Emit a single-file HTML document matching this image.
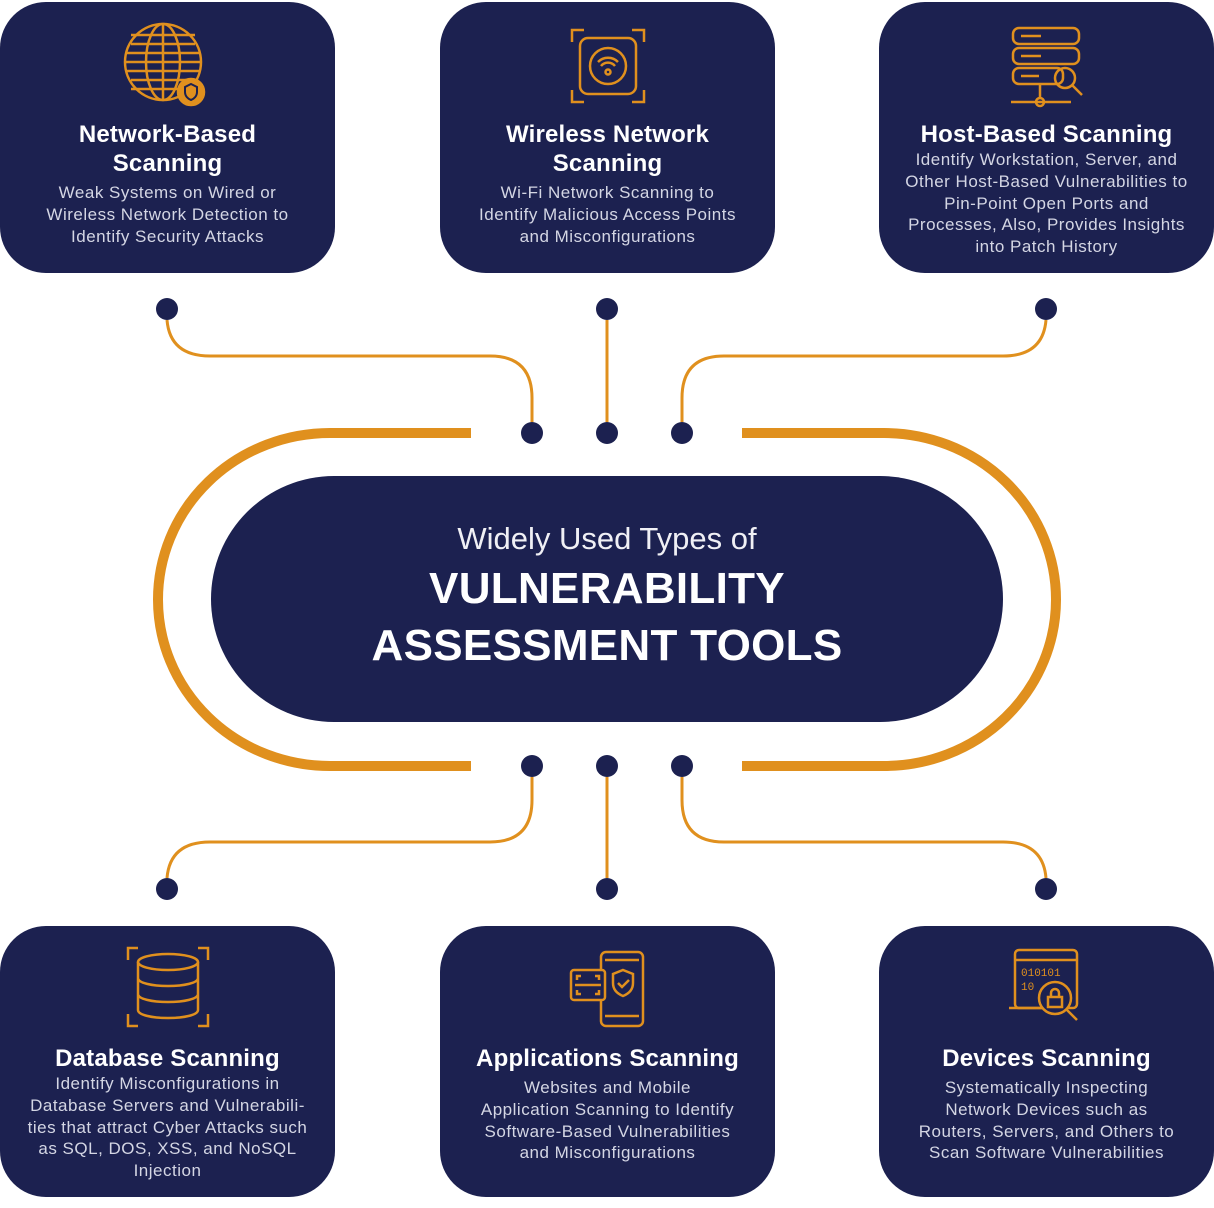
<!DOCTYPE html>
<html><head><meta charset="utf-8"><style>
body{margin:0;width:1214px;height:1208px;background:#fff;position:relative;overflow:hidden;font-family:"Liberation Sans",sans-serif}
.box{position:absolute;width:335px;height:271px;background:#1c2150;border-radius:46px;color:#fff;text-align:center}
.box h3{margin:0;font-size:24px;font-weight:bold;line-height:29px;letter-spacing:0.2px}
.box p{margin:4px 0 0;font-size:17px;line-height:21.8px;color:#d4d6e4;letter-spacing:0.5px}
.ic{position:absolute;left:50%;transform:translateX(-50%)}
</style></head><body>
<svg width="1214" height="1208" style="position:absolute;left:0;top:0">
<g fill="none" stroke="#e0901e" stroke-width="3">
<path d="M167 320 Q170 356 210 356 L490 356 Q532 356 532 398 L532 422"/>
<path d="M607 320 L607 422"/>
<path d="M1046 320 Q1043 356 1003 356 L724 356 Q682 356 682 398 L682 422"/>
<path d="M532 777 L532 800 Q532 842 490 842 L210 842 Q170 842 167 878"/>
<path d="M607 777 L607 878"/>
<path d="M682 777 L682 800 Q682 842 724 842 L1003 842 Q1043 842 1046 878"/>
</g>
<path d="M471 433 L330 433 A172 166.5 0 0 0 330 766 L471 766 M742 433 L884 433 A172 166.5 0 0 1 884 766 L742 766" fill="none" stroke="#e0901e" stroke-width="10"/>
<g fill="#1c2150">
<circle cx="167" cy="309" r="11"/><circle cx="607" cy="309" r="11"/><circle cx="1046" cy="309" r="11"/>
<circle cx="532" cy="433" r="11"/><circle cx="607" cy="433" r="11"/><circle cx="682" cy="433" r="11"/>
<circle cx="532" cy="766" r="11"/><circle cx="607" cy="766" r="11"/><circle cx="682" cy="766" r="11"/>
<circle cx="167" cy="889" r="11"/><circle cx="607" cy="889" r="11"/><circle cx="1046" cy="889" r="11"/>
<rect x="211" y="476" width="792" height="246" rx="123"/>
</g>
</svg>
<div style="position:absolute;left:211px;top:518px;width:792px;text-align:center;color:#fff">
<div style="font-size:31px;line-height:42px;font-weight:normal;color:#f0f0f5">Widely Used Types of</div>
<div style="font-size:44px;line-height:57px;font-weight:bold;letter-spacing:0.3px">VULNERABILITY<br>ASSESSMENT TOOLS</div>
</div>

<div class="box" style="left:0;top:2px">
<svg class="ic" style="top:20px" width="90" height="90" viewBox="0 0 90 90" fill="none" stroke="#e0901e" stroke-width="2.5"><circle cx="40" cy="40" r="38"/><ellipse cx="40" cy="40" rx="17" ry="38"/><path d="M40 2v76M2 40h76M8 22h64M8 58h64M4 31h72M4 49h72M8 67h64M8 13h64"/><circle cx="68" cy="70" r="13" fill="#e0901e"/><path d="M68 62l6 3v5c0 4-3 7-6 8-3-1-6-4-6-8v-5z" stroke="#1c2150" stroke-width="2"/></svg>
<div style="position:absolute;top:118px;width:100%"><h3>Network-Based<br>Scanning</h3><p>Weak Systems on Wired or<br>Wireless Network Detection to<br>Identify Security Attacks</p></div></div>

<div class="box" style="left:440px;top:2px">
<svg class="ic" style="top:26px" width="76" height="76" viewBox="0 0 76 76" fill="none" stroke="#e0901e" stroke-width="2.5"><path d="M2 14V2h12M62 2h12v12M74 62v12H62M14 74H2V62"/><rect x="10" y="10" width="56" height="56" rx="8"/><circle cx="38" cy="38" r="18"/><path d="M28 34a14 14 0 0 1 20 0M31 38a9 9 0 0 1 14 0"/><circle cx="38" cy="44" r="2.5"/></svg>
<div style="position:absolute;top:118px;width:100%"><h3>Wireless Network<br>Scanning</h3><p>Wi-Fi Network Scanning to<br>Identify Malicious Access Points<br>and Misconfigurations</p></div></div>

<div class="box" style="left:879px;top:2px">
<svg class="ic" style="top:24px" width="80" height="82" viewBox="0 0 80 82" fill="none" stroke="#e0901e" stroke-width="2.5"><rect x="6" y="2" width="66" height="16" rx="6"/><rect x="6" y="22" width="66" height="16" rx="6"/><rect x="6" y="42" width="50" height="16" rx="6"/><path d="M14 10h20M14 30h20M14 50h18M33 58v14M4 76h60"/><circle cx="33" cy="76" r="4"/><circle cx="58" cy="52" r="10"/><path d="M65 59l10 10"/></svg>
<div style="position:absolute;top:118px;width:100%"><h3>Host-Based Scanning</h3><p style="margin-top:0">Identify Workstation, Server, and<br>Other Host-Based Vulnerabilities to<br>Pin-Point Open Ports and<br>Processes, Also, Provides Insights<br>into Patch History</p></div></div>

<div class="box" style="left:0;top:926px">
<svg class="ic" style="top:20px" width="84" height="82" viewBox="0 0 84 82" fill="none" stroke="#e0901e" stroke-width="2.5"><path d="M2 14V2h10M72 2h10v12M82 68v12H72M12 80H2V68"/><ellipse cx="42" cy="16" rx="30" ry="8"/><path d="M12 16v48c0 5 14 8 30 8s30-3 30-8V16M12 32c0 5 14 8 30 8s30-3 30-8M12 48c0 5 14 8 30 8s30-3 30-8"/></svg>
<div style="position:absolute;top:118px;width:100%"><h3>Database Scanning</h3><p style="margin-top:0">Identify Misconfigurations in<br>Database Servers and Vulnerabili-<br>ties that attract Cyber Attacks such<br>as SQL, DOS, XSS, and NoSQL<br>Injection</p></div></div>

<div class="box" style="left:440px;top:926px">
<svg class="ic" style="top:24px" width="78" height="78" viewBox="0 0 78 78" fill="none" stroke="#e0901e" stroke-width="2.5"><rect x="32" y="2" width="42" height="74" rx="5"/><path d="M36 10h34M36 66h34"/><rect x="2" y="20" width="34" height="30" rx="3" fill="#1c2150"/><path d="M8 30v-4h4M26 26h4v4M30 40v4h-4M12 44H8v-4M6 35h26"/><path d="M54 20l10 4v9c0 7-5 11-10 13-5-2-10-6-10-13v-9z"/><path d="M49 33l4 4 7-7"/></svg>
<div style="position:absolute;top:118px;width:100%"><h3>Applications Scanning</h3><p>Websites and Mobile<br>Application Scanning to Identify<br>Software-Based Vulnerabilities<br>and Misconfigurations</p></div></div>

<div class="box" style="left:879px;top:926px">
<svg class="ic" style="top:22px" width="80" height="80" viewBox="0 0 80 80" fill="none" stroke="#e0901e" stroke-width="2.5"><rect x="8" y="2" width="62" height="58" rx="4"/><path d="M8 12h62M2 60h40"/><text x="14" y="28" font-size="11" fill="#e0901e" stroke="none" font-family="Liberation Mono">010101</text><text x="14" y="42" font-size="11" fill="#e0901e" stroke="none" font-family="Liberation Mono">10</text><circle cx="48" cy="50" r="16" fill="#1c2150"/><rect x="41" y="49" width="14" height="10"/><path d="M44 49v-4a4 4 0 0 1 8 0v4M60 62l10 10"/></svg>
<div style="position:absolute;top:118px;width:100%"><h3>Devices Scanning</h3><p>Systematically Inspecting<br>Network Devices such as<br>Routers, Servers, and Others to<br>Scan Software Vulnerabilities</p></div></div>
</body></html>
